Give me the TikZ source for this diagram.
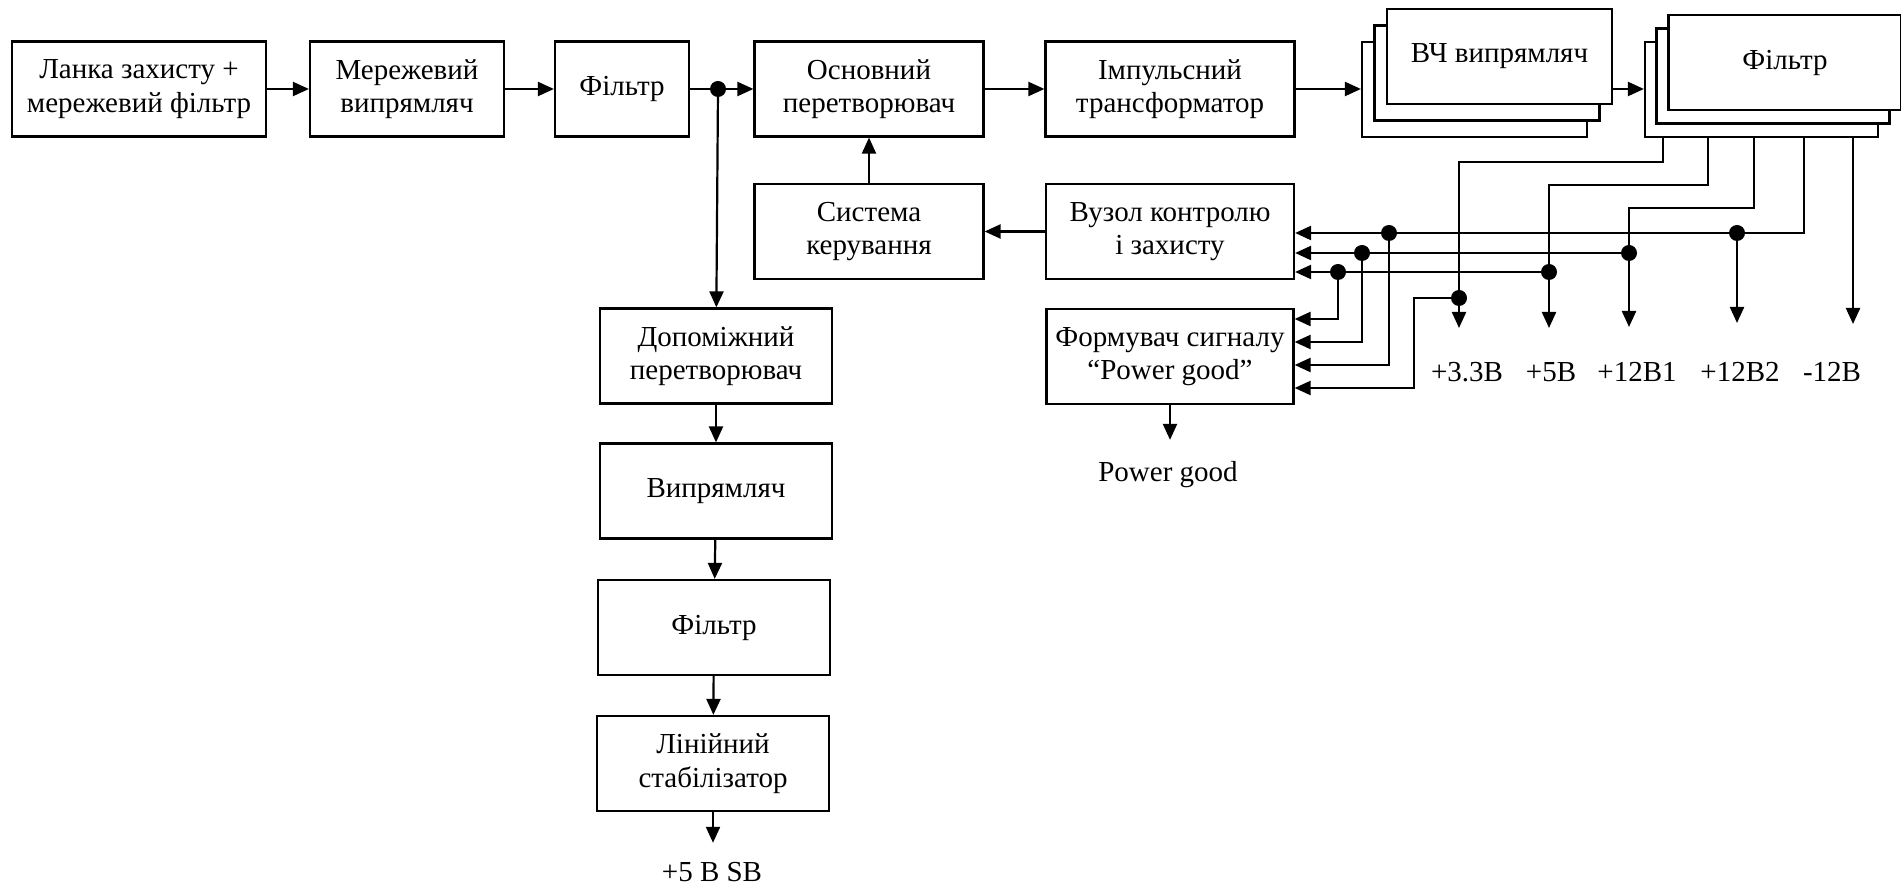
\documentclass[tikz,border=0pt]{standalone}
\usepackage{fontspec}
\setmainfont{Liberation Serif}
\usetikzlibrary{arrows.meta,positioning}

\tikzset{
  blk/.style={draw, fill=white, align=center, inner sep=1pt, minimum height=47.5pt},
  lbl/.style={inner sep=0pt},
  arr/.style={-{Triangle[length=8pt,width=7pt]}},
}

\begin{document}
\begin{tikzpicture}[x=0.5pt, y=-0.5pt, line width=1.1pt,
  every node/.style={font=\fontsize{14.5}{16.7}\selectfont}]
  \useasboundingbox (0,0) rectangle (1901,886);
  % main chain
  \node[blk, minimum width=127pt] (lanka) at (139,89) {Ланка захисту +\\мережевий фільтр};
  \node[blk, minimum width=97pt] (merezh) at (407,89) {Мережевий\\випрямляч};
  \node[blk, minimum width=67pt] (filt) at (622,89) {Фільтр};
  \node[blk, minimum width=114.5pt] (osn) at (869,89) {Основний\\перетворювач};
  \node[blk, minimum width=124.5pt] (imp) at (1170,89) {Імпульсний\\трансформатор};
  % stacked blocks
  \node[blk, minimum width=112.5pt] (vchc) at (1474.5,89.5) {};
  \node[blk, minimum width=112.5pt] (vchb) at (1487,73) {};
  \node[blk, minimum width=112.5pt] (vcha) at (1499.5,56.5) {ВЧ випрямляч};
  \node[blk, minimum width=116.5pt] (flc) at (1761.5,89.5) {};
  \node[blk, minimum width=116.5pt] (flb) at (1773,76) {};
  \node[blk, minimum width=116.5pt] (fla) at (1785,62.5) {Фільтр};
  % control
  \node[blk, minimum width=114.5pt] (sys) at (869,231.5) {Система\\керування};
  \node[blk, minimum width=124pt] (vuz) at (1170,231.5) {Вузол контролю\\і захисту};
  \node[blk, minimum width=123.5pt] (form) at (1170,356.5) {Формувач сигналу\\“Power good”};
  \node[lbl, anchor=base, outer sep=11pt] (pwr) at (1168,482) {Power good};
  % standby chain
  \node[blk, minimum width=116pt] (dop) at (716,356) {Допоміжний\\перетворювач};
  \node[blk, minimum width=116pt] (vyp) at (716,491) {Випрямляч};
  \node[blk, minimum width=116pt] (filt2) at (714,627.5) {Фільтр};
  \node[blk, minimum width=116pt] (lin) at (713,763.5) {Лінійний\\стабілізатор};
  \node[lbl, anchor=base, outer sep=9.5pt] (sb) at (712,881) {+5 В SB};
  % output labels
  \foreach \x/\t [count=\i] in {1467/+3.3В,1551/+5В,1637/+12В1,1740/+12В2,1832/-12В}
    \node[lbl, anchor=base] (out\i) at (\x,382) {\t};

  \coordinate (d0) at (718,89);
  \draw[arr] (lanka) -- (merezh);
  \draw[arr] (merezh) -- (filt);
  \draw (filt) -- (d0);
  \draw[arr] (d0) -- (osn);
  \draw[arr] (osn) -- (imp);
  \draw[arr] (imp) -- (imp -| vchc.west);
  \draw[arr] (vcha.east |- imp) -- (flc.west |- imp);
  \draw[arr] (sys) -- (osn);
  \draw[arr] (vuz) -- (sys);
  \draw[arr] (form) -- (form |- pwr.north);
  \draw[arr] (d0) -- (dop);
  \draw[arr] (dop) -- (vyp);
  \draw[arr] (vyp) -- (filt2);
  \draw[arr] (filt2) -- (lin);
  \draw[arr] (lin) -- (lin |- sb.north);

  % filter taps and outputs
  \coordinate (t1) at (1663,137);
  \coordinate (t2) at (1708,137);
  \coordinate (t3) at (1754,137);
  \coordinate (t4) at (1804,137);
  \coordinate (t5) at (1853,137);
  \coordinate (k1) at (1459,162);
  \coordinate (k2) at (1549,185);
  \coordinate (k3) at (1629,208);
  \coordinate (o1) at (1459,328);
  \coordinate (o2) at (1549,328);
  \coordinate (o3) at (1629,327);
  \coordinate (o4) at (1737,323);
  \coordinate (o5) at (1853,324);
  % junctions
  \coordinate (jA) at (1737,233);
  \coordinate (jA2) at (1389,233);
  \coordinate (jB) at (1629,253);
  \coordinate (jB2) at (1362,253);
  \coordinate (jC) at (1549,272);
  \coordinate (jC2) at (1338,272);
  \coordinate (jD) at (1459,298);
  \coordinate (bD) at (1414,298);
  \coordinate (pg1) at (1338,319);
  \coordinate (pg2) at (1362,342);
  \coordinate (pg3) at (1389,365);
  \coordinate (pg4) at (1414,388);

  \draw[arr] (t1) |- (k1) -- (o1);
  \draw[arr] (t2) |- (k2) -- (o2);
  \draw[arr] (t3) |- (k3) -- (o3);
  \draw[arr] (t4) |- (vuz.east |- jA);
  \draw[arr] (jA) -- (o4);
  \draw[arr] (t5) -- (o5);
  \draw[arr] (jB) -- (vuz.east |- jB);
  \draw[arr] (jC) -- (vuz.east |- jC);
  % inputs of the power good former
  \draw[arr] (jC2) -- (pg1) -- (form.east |- pg1);
  \draw[arr] (jB2) -- (pg2) -- (form.east |- pg2);
  \draw[arr] (jA2) -- (pg3) -- (form.east |- pg3);
  \draw[arr] (jD) -- (bD) -- (pg4) -- (form.east |- pg4);
  \foreach \j in {d0,jA,jA2,jB,jB2,jC,jC2,jD} \fill (\j) circle (4pt);
\end{tikzpicture}
\end{document}
